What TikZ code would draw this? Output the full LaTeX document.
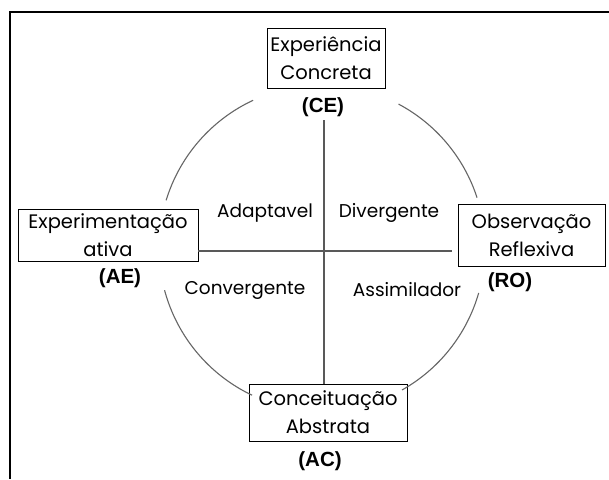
\documentclass[tikz,border=0pt]{standalone}
\usepackage{fontspec}
\setmainfont{Poppins}
\newfontfamily\lblfont{Liberation Sans}
\begin{document}
\begin{tikzpicture}[x=1pt,y=-1pt,
  stagebox/.style={draw=black, line width=0.9pt, align=center, inner sep=0pt,
    font=\fontsize{19.5}{28}\selectfont},
  code/.style={font=\lblfont\bfseries\fontsize{20.5}{22}\selectfont, inner sep=0pt},
  quad/.style={font=\fontsize{18.5}{20}\selectfont, inner sep=0pt},
  axis/.style={draw=black!65, line width=1.2pt},
  arcline/.style={draw=black!60, line width=1.1pt}]
\useasboundingbox (0,0) rectangle (609,479);
\fill[white] (0,0) rectangle (609,479);
% frame
\draw[line width=2pt] (609,12) -- (10,12) -- (10,479);
% boxes
\node[stagebox, minimum width=118, minimum height=60] (CE) at (326,58) {Experiência\\Concreta};
\node[stagebox, minimum width=180, minimum height=52] (AE) at (108,235) {Experimentação\\ativa};
\node[stagebox, minimum width=147, minimum height=62] (RO) at (531.5,235) {Observação\\Reflexiva};
\node[stagebox, minimum width=158, minimum height=57] (AC) at (328,412.5) {Conceituação\\Abstrata};
% codes
\node[code] (ceL) at (323,107) {(CE)};
\node[code] (aeL) at (120,278) {(AE)};
\node[code] (roL) at (510,282) {(RO)};
\node[code] (acL) at (320,461) {(AC)};
% quadrant labels
\node[quad] (q1) at (265,213) {Adaptavel};
\node[quad] (q2) at (389,213) {Divergente};
\node[quad] (q3) at (245,290) {Convergente};
\node[quad] (q4) at (407,290) {Assimilador};
% axes
\coordinate (hL) at (AE.east |- 0,251);
\coordinate (hR) at (452,251);
\coordinate (vT) at (324,120);
\draw[axis] (hL) -- (hR);
\draw[axis] (vT) -- (vT |- AC.north);
% circle arcs
\coordinate (c) at (322,248);
\draw[arcline] (c) ++(-115:163) arc[start angle=-115, end angle=-163, radius=163];
\draw[arcline] (c) ++(165:163) arc[start angle=165, end angle=115.4, radius=163];
\draw[arcline] (c) ++(-62:163) arc[start angle=-62, end angle=-18, radius=163];
\draw[arcline] (c) ++(16:163) arc[start angle=16, end angle=60.6, radius=163];
\end{tikzpicture}
\end{document}
